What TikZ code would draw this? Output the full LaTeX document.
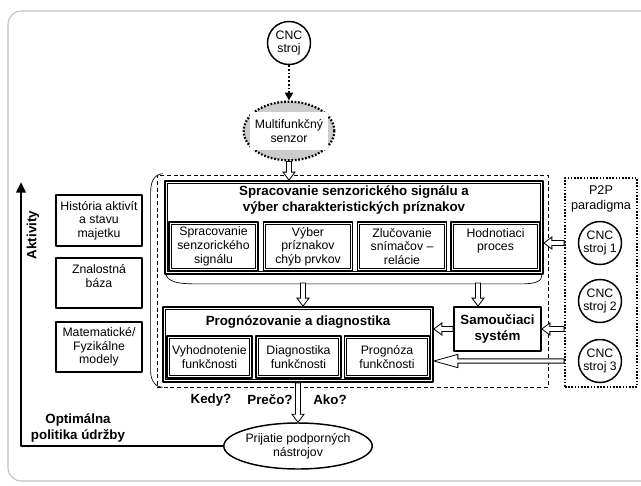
\documentclass[tikz,border=0pt]{standalone}
\usepackage{fontspec}
\setmainfont{Liberation Sans}
\usetikzlibrary{arrows.meta,shapes.geometric,calc}

\newcommand\pismo{\fontsize{9.2}{10.3}\selectfont}
\newcommand\tucnepismo{\fontsize{10}{12}\selectfont\bfseries}

% duta sipka: #1 dlzka hrotu, #2 polosirka hrotu, #3 polosirka drieku, #4 od, #5 do
\newcommand\dutasipka[5]{%
  \draw[dutaciara] let \p1=(#4), \p2=(#5), \n1={veclen(\x2-\x1,\y2-\y1)},
      \n2={(\x2-\x1)/\n1}, \n3={(\y2-\y1)/\n1} in
    ({\x1-#3*\n3},{\y1+#3*\n2}) -- ({\x2-#1*\n2-#3*\n3},{\y2-#1*\n3+#3*\n2})
    -- ({\x2-#1*\n2-#2*\n3},{\y2-#1*\n3+#2*\n2}) -- (\p2)
    -- ({\x2-#1*\n2+#2*\n3},{\y2-#1*\n3-#2*\n2}) -- ({\x2-#1*\n2+#3*\n3},{\y2-#1*\n3-#3*\n2})
    -- ({\x1+#3*\n3},{\y1-#3*\n2}) -- cycle;
}

\tikzset{
  stroj/.style={circle, draw, line width=1.1pt, minimum size=32.25pt, inner sep=0pt, align=center, font=\pismo},
  senzor/.style={ellipse, draw, fill=gray!40, line width=1.7pt, dash pattern=on 1.3pt off 1.3pt, minimum width=68pt, minimum height=44pt},
  senzortext/.style={fill=white, minimum width=58pt, minimum height=28pt, inner sep=0pt, align=center, font=\pismo},
  ram/.style={draw, line width=0.6pt, dash pattern=on 3pt off 2pt, inner sep=0pt},
  bodkovany/.style={draw, line width=1.3pt, dash pattern=on 1.2pt off 1.2pt, inner sep=0pt},
  bodky/.style={line width=1.5pt, dash pattern=on 1.3pt off 1.5pt, -{Triangle[length=6pt,width=6pt]}},
  blok/.style={draw, line width=1.3pt, inner sep=0pt, align=center, font=\pismo,
    path picture={\draw[line width=0.5pt] ([shift={(1.7pt,-1.7pt)}]path picture bounding box.north west) rectangle ([shift={(-1.7pt,1.7pt)}]path picture bounding box.south east);}},
  okno/.style={blok, minimum width=66.75pt, minimum height=36.75pt},
  okienko/.style={blok, minimum width=63.75pt, minimum height=31.5pt},
  lavy/.style={draw, line width=1.2pt, inner sep=0pt, align=center, font=\pismo, minimum width=64.5pt, minimum height=37.5pt},
  tucne/.style={inner sep=0pt, align=center, font=\tucnepismo},
  tenka/.style={line width=0.5pt},
  dutaciara/.style={draw, fill=white, line width=0.6pt, line join=miter},
  os/.style={line width=1.9pt, -{Triangle[length=8pt,width=7pt]}}
}

\begin{document}
\begin{tikzpicture}[line join=round, x=0.75pt, y=-0.75pt]
\useasboundingbox (0,0) rectangle (641,485);
\clip (0,0) rectangle (641,485);
\draw[color=gray!50, line width=0.8pt, rounded corners=10pt] (8,11) rectangle (700,481);

% senzor
\node[stroj] (cnc) at (289,43) {CNC\\stroj};
\node[senzor] (senzor) at (289,131) {};
\node[senzortext] (senzortext) at (senzor) {Multifunkčný\\senzor};
\draw[bodky] (cnc) -- (senzor);

% ramec spracovania
\node[ram, minimum width=293.25pt, minimum height=159pt] (ram) at (352.5,281) {};
\draw[tenka] ([shift={(6,-1)}]ram.north west) .. controls +(-8,1) and +(0,-12) .. ([shift={(-6,18)}]ram.north west)
  -- ([shift={(-6,-16)}]ram.south west) .. controls +(0,10) and +(-6,0) .. ([shift={(6,0)}]ram.south west);

\node[blok, minimum width=283.5pt, minimum height=69.75pt] (sprac) at (354,227.5) {};
\node[tucne] (spractit) at (354,200) {Spracovanie senzorického signálu a\\výber charakteristických príznakov};
\foreach \x/\t/\n in {213.5/{Spracovanie\\senzorického\\signálu}/s1, 308/{Výber\\príznakov\\chýb prvkov}/s2,
    402/{Zlučovanie\\snímačov –\\relácie}/s3, 495.5/{Hodnotiaci\\proces\\\mbox{}}/s4}
  \node[okno] (\n) at (\x,246.5) {\t};
\draw[tenka] ([shift={(2,0)}]sprac.south west) .. controls +(2,7) and +(-15,0) .. ([shift={(30,9)}]sprac.south west) coordinate (oblL)
  -- ([shift={(-22,9)}]sprac.south east) coordinate (oblR) .. controls +(15,0) and +(0,6) .. ([shift={(-2,0)}]sprac.south east);
\coordinate (sipkaL) at (303,283);
\coordinate (sipkaR) at (478,283);

\node[blok, minimum width=202.5pt, minimum height=56.25pt] (prog) at (298,344.5) {};
\node[tucne] (progtit) at (298,322) {Prognózovanie a diagnostika};
\foreach \x/\t/\n in {209.5/{Vyhodnotenie\\funkčnosti}/p1, 298.5/{Diagnostika\\funkčnosti}/p2, 387/{Prognóza\\funkčnosti}/p3}
  \node[okienko] (\n) at (\x,357) {\t};
\node[draw, line width=1.3pt, minimum width=65.25pt, minimum height=33pt, inner sep=0pt, align=center, font=\tucnepismo] (samo) at (497.5,329) {Samoučiaci\\systém};

% P2P
\node[bodkovany, minimum width=54pt, minimum height=156.75pt] (p2p) at (601,282.5) {};
\node[inner sep=0pt, align=center, font=\fontsize{9.5}{11.5}\selectfont] (p2ptit) at (601,199) {P2P\\paradigma};
\foreach \y/\n in {243/1, 301/2, 361/3}
  \node[stroj] (cnc\n) at (600,\y) {CNC\\stroj \n};

% lavy stlpec
\node[lavy, minimum height=38.25pt] (historia) at (99,220.5) {História aktivít\\a stavu\\majetku};
\node[lavy] (znalosti) at (99,283) {Znalostná\\báza\\\mbox{}};
\node[lavy] (modely) at (99,347) {Matematické/\\Fyzikálne\\modely};

% dole
\node[ellipse, draw, line width=1.1pt, minimum width=105pt, minimum height=34.5pt, inner sep=0pt, align=center, font=\pismo] (prijatie) at (298,446) {Prijatie podporných\\nástrojov};
\node[tucne] (kedy) at (211,400) {Kedy?};
\node[tucne] (preco) at (270,400) {Prečo?};
\node[tucne] (ako) at (330,400) {Ako?};
\node[tucne] (politika) at (78,428) {Optimálna\\politika údržby};
\node[tucne, rotate=90] (aktivity) at (33,235) {Aktivity};
\coordinate (akt) at (21,182);
\draw[os] (prijatie.west) -| (akt);

% sipky
\dutasipka{6pt}{4.5pt}{1.9pt}{senzor.south}{senzor.south |- sprac.north}
\dutasipka{6pt}{4.5pt}{1.9pt}{sipkaL}{sipkaL |- prog.north}
\dutasipka{6pt}{4.5pt}{1.9pt}{sipkaR}{sipkaR |- samo.north}
\dutasipka{6pt}{4.5pt}{1.9pt}{p2p.west |- cnc1}{sprac.east |- cnc1}
\dutasipka{6pt}{4.5pt}{1.9pt}{p2p.west |- samo}{samo.east}
\dutasipka{6pt}{4.5pt}{1.9pt}{samo.west}{samo.west -| prog.east}
\dutasipka{18pt}{5pt}{1.6pt}{p2p.west |- cnc3}{prog.east |- cnc3}
\dutasipka{6pt}{4.5pt}{1.9pt}{prog.south}{prijatie.north}

\end{tikzpicture}
\end{document}
